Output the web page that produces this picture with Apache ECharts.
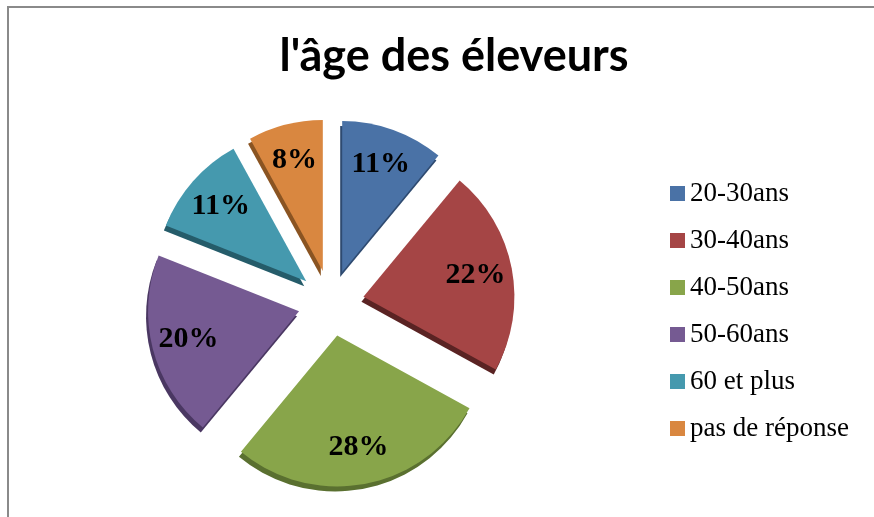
<!DOCTYPE html>
<html>
<head>
<meta charset="utf-8">
<script src="https://cdn.jsdelivr.net/npm/echarts@6/dist/echarts.min.js"></script>
<style>
  html, body { margin: 0; padding: 0; background: #fff; }
  #chart { width: 874px; height: 517px; }
</style>
</head>
<body>
<div id="chart"></div>
<script>
// données
var categories = ['20-30ans', '30-40ans', '40-50ans', '50-60ans', '60 et plus', 'pas de réponse'];
var values = [11, 22, 28, 20, 11, 8];
var colors = ['#4A72A6', '#A54545', '#88A54A', '#755A92', '#4599AE', '#D98740'];
var edgeColors = ['#2E4A70', '#5A2323', '#5A7030', '#4A3762', '#255C6A', '#8A5422'];

var chart = echarts.init(document.getElementById('chart'));

var pieData = categories.map(function (name, i) {
    return {
        name: name,
        value: values[i],
        selected: true,
        itemStyle: {
            color: colors[i],
            shadowColor: edgeColors[i],
            shadowBlur: 0,
            shadowOffsetX: -2,
            shadowOffsetY: 5
        }
    };
});

// série invisible pour placer les étiquettes plus loin du centre
var labelData = categories.map(function (name, i) {
    return { name: name, value: values[i], selected: true };
});

var option = {
    animation: false,
    textStyle: { fontFamily: 'Liberation Serif' },
    title: {
        text: "l'âge des éleveurs",
        left: 449,
        top: 29,
        textAlign: 'center',
        textStyle: {
            fontFamily: 'Lato',
            fontWeight: 'bold',
            fontSize: 45,
            color: '#000'
        }
    },
    legend: {
        orient: 'vertical',
        left: 665,
        top: 175,
        icon: 'rect',
        itemWidth: 15,
        itemHeight: 15,
        itemGap: 20,
        data: categories,
        selectedMode: false,
        textStyle: {
            fontFamily: 'Liberation Serif',
            fontSize: 27,
            color: '#000'
        }
    },
    graphic: [{
        type: 'rect',
        shape: { x: 8, y: 7, width: 880, height: 530 },
        style: { fill: 'none', stroke: '#8a8a8a', lineWidth: 2 },
        silent: true
    }],
    series: [{
        type: 'pie',
        center: [331, 303],
        radius: [0, 151],
        startAngle: 90,
        clockwise: true,
        selectedMode: 'multiple',
        selectedOffset: 33,
        label: { show: false },
        labelLine: { show: false },
        emphasis: { disabled: true },
        data: pieData
    }, {
        type: 'pie',
        center: [331, 303],
        radius: [0, 222],
        startAngle: 90,
        clockwise: true,
        selectedMode: 'multiple',
        selectedOffset: 33,
        silent: true,
        itemStyle: { color: 'rgba(0,0,0,0)' },
        label: {
            show: true,
            position: 'inside',
            formatter: '{c}%',
            fontFamily: 'Liberation Serif',
            fontWeight: 'bold',
            fontSize: 30,
            color: '#000'
        },
        labelLine: { show: false },
        emphasis: { disabled: true },
        data: labelData
    }]
};
chart.setOption(option);
</script>
</body>
</html>
